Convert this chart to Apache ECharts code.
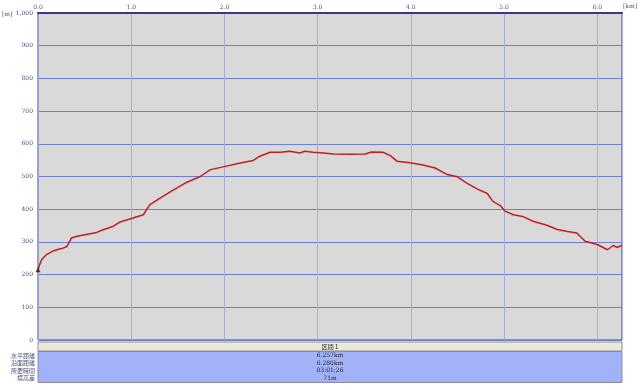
<!DOCTYPE html>
<html>
<head>
<meta charset="utf-8">
<script src="https://cdn.jsdelivr.net/npm/echarts@6/dist/echarts.min.js"></script>
<style>
  html, body { margin: 0; padding: 0; background: #fff; }
  #main { width: 640px; height: 390px; }
</style>
</head>
<body>
<div id="main"></div>
<script>
// 距離 (km) と 標高 (m)
var distKm = [0.00, 0.02, 0.04, 0.09, 0.16, 0.24, 0.27, 0.31, 0.36, 0.42, 0.50, 0.56, 0.63, 0.70, 0.81, 0.88,
  1.02, 1.13, 1.20, 1.31, 1.44, 1.58, 1.74, 1.85, 2.01, 2.17, 2.31, 2.38, 2.49, 2.60, 2.70, 2.81,
  2.86, 2.95, 2.97, 3.03, 3.17, 3.35, 3.51, 3.58, 3.70, 3.78, 3.85, 3.99, 4.13, 4.26, 4.39, 4.50,
  4.60, 4.71, 4.82, 4.88, 4.96, 5.01, 5.10, 5.20, 5.31, 5.46, 5.57, 5.68, 5.78, 5.87, 6.00, 6.11,
  6.17, 6.21, 6.26];
var elevM = [215, 232, 246, 261, 272, 279, 281, 286, 312, 317, 322, 325, 329, 337, 348, 361,
  373, 383, 414, 434, 457, 480, 500, 521, 531, 541, 549, 562, 574, 574, 577, 572,
  577, 574, 568, 573, 569, 568, 569, 575, 574, 564, 547, 542, 535, 526, 506, 499,
  480, 462, 448, 424, 411, 394, 383, 378, 363, 351, 338, 332, 327, 302, 292, 276,
  289, 283, 289];
var xTicks = ['0.0', '1.0', '2.0', '3.0', '4.0', '5.0', '6.0'];
var sectionTitle = '区間 1';
var tableLabels = ['水平距離', '沿面距離', '所要時間', '標高差'];
var tableValues = ['6.257km', '6.280km', '03:01:26', '71m'];

var G = { left: 38, right: 18, top: 13, bottom: 50 };
var W = 640;
var tblX = G.left, tblW = W - G.left - G.right;

var myChart = echarts.init(document.getElementById('main'));

var graphics = [
  { type: 'text', left: 2, top: 11, style: { text: '[m]', fontSize: 6, fill: '#4a5078', fontFamily: 'DejaVu Serif' } },
  { type: 'text', left: 623, top: 3, style: { text: '[km]', fontSize: 6, fill: '#4a5078', fontFamily: 'DejaVu Serif' } },
  { type: 'rect', shape: { x: tblX, y: 342, width: tblW, height: 9 },
    style: { fill: '#ece9d8', stroke: '#8c8c9c', lineWidth: 1 } },
  { type: 'text', x: tblX + tblW / 2, y: 346.5,
    style: { text: sectionTitle, fontSize: 6, fill: '#222', align: 'center', verticalAlign: 'middle', fontFamily: 'Noto Sans CJK JP' } },
  { type: 'rect', shape: { x: tblX, y: 351.5, width: tblW, height: 31 },
    style: { fill: '#a2b2f8', stroke: '#8c8c9c', lineWidth: 1 } }
];
var rowY = [355.5, 363, 370.5, 378];
tableLabels.forEach(function (t, i) {
  graphics.push({ type: 'text', x: 35, y: rowY[i],
    style: { text: t, fontSize: 6, lineHeight: 7, fill: '#4a5078', align: 'right', verticalAlign: 'middle', fontFamily: 'Noto Sans CJK JP' } });
  graphics.push({ type: 'text', x: tblX + tblW / 2, y: rowY[i],
    style: { text: tableValues[i], fontSize: 6, lineHeight: 7, fill: '#222', align: 'center', verticalAlign: 'middle', fontFamily: 'DejaVu Serif' } });
});

var option = {
  animation: false,
  backgroundColor: '#ffffff',
  grid: {
    left: G.left, right: G.right, top: G.top, bottom: G.bottom,
    show: true, backgroundColor: '#d9d9d9', borderColor: '#3e4490', borderWidth: 1
  },
  xAxis: {
    type: 'value', position: 'top', min: 0, max: 6.265, interval: 1,
    axisLine: { show: true, onZero: false, lineStyle: { color: '#343a88', width: 2 } },
    axisTick: { show: false },
    axisLabel: {
      fontSize: 6, color: '#4a5078', fontFamily: 'DejaVu Serif', margin: 3, showMaxLabel: false,
      formatter: function (v) { return xTicks[Math.round(v)] || ''; }
    },
    splitLine: { show: true, lineStyle: { color: '#a6aed8', width: 1 } }
  },
  yAxis: {
    type: 'value', min: 0, max: 1000, interval: 100,
    axisLine: { show: true, lineStyle: { color: '#9aa0d0', width: 1 } },
    axisTick: { show: false },
    axisLabel: { fontSize: 6, color: '#4a5078', fontFamily: 'DejaVu Serif', margin: 5 },
    splitLine: { show: true, lineStyle: { color: '#6f7fd0', width: 1 } }
  },
  graphic: graphics,
  series: [
    {
      type: 'line',
      data: distKm.map(function (d, i) { return [d, elevM[i]]; }),
      showSymbol: false,
      lineStyle: { color: '#c81c1c', width: 1.5 },
      z: 3
    },
    {
      type: 'scatter',
      data: [[distKm[0], elevM[0]]],
      symbol: 'triangle', symbolSize: 5,
      itemStyle: { color: '#222' },
      z: 4
    }
  ]
};
myChart.setOption(option);
</script>
</body>
</html>
